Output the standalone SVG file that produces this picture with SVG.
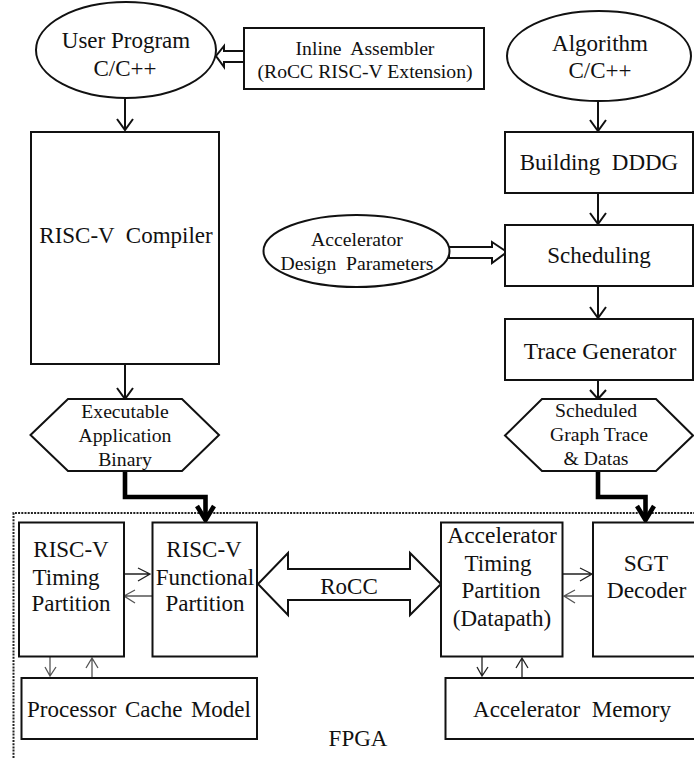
<svg xmlns="http://www.w3.org/2000/svg" width="694" height="758" viewBox="0 0 694 758">
<style>
text{font-family:"Liberation Serif","Times New Roman",serif;fill:#111;text-anchor:middle}
.s{fill:#fff;stroke:#111;stroke-width:2}
.f23{font-size:23px}.f24{font-size:23.5px}.f20{font-size:19.7px}
.c{fill:none;stroke:#111;stroke-width:2}
.t{fill:none;stroke:#555;stroke-width:1.3}
.d{fill:none;stroke:#222;stroke-width:1.3}
.b{fill:none;stroke:#000;stroke-width:4.6}
.o{fill:#fff;stroke:#111;stroke-width:2}
</style>
<rect width="694" height="758" fill="#fff"/>
<path d="M13.500 758V513H694" fill="none" stroke="#222" stroke-width="2" stroke-dasharray="2 1.200"/>
<g id="connectors">
<path class="c" d="M125 99V130M117 119L125 130L133 119"/>
<path class="c" d="M598 99V131M590 120L598 131L606 120"/>
<path class="c" d="M598 193V224M590 213L598 224L606 213"/>
<path class="c" d="M598 286V318M590 307L598 318L606 307"/>
<path class="c" d="M598 380V399M590 390L598 399L606 390"/>
<path class="c" d="M125 364V399M117 388L125 399L133 388"/>
<path class="b" d="M125 471V497H205.500V519"/>
<path class="b" d="M197 506L205.500 520L214 506"/>
<path class="b" d="M598 471V497H645.500V519"/>
<path class="b" d="M637 506L645.500 520L654 506"/>
<path class="o" d="M244 51H224V46L216 56L224 67V62H244Z"/>
<path class="o" d="M449 247H492V242L507 252L492 263V258H449Z"/>
<path class="o" d="M258 584L288 553V569H410V553L441 584L410 615V600H288V615Z"/>
<path class="d" d="M122 574H150M138 568L150 574L138 581"/>
<path class="t" d="M152 596H124M135 590L124 596L135 603"/>
<path class="t" d="M50 657V676M45 667L50 676L56 667"/>
<path class="t" d="M92 677V658M86 668L92 658L98 668"/>
<path class="d" d="M563 574H592M580 568L592 574L580 581"/>
<path class="t" d="M595 596H564M575 590L564 596L575 603"/>
<path class="d" d="M482 657V676M477 667L482 676L488 667"/>
<path class="d" d="M522 677V658M516 668L522 658L528 668"/>
</g>
<g id="user-program"><ellipse class="s" cx="126" cy="50" rx="90" ry="48"/><text class="f23" x="126" y="48">User Program</text><text class="f23" x="125" y="76">C/C++</text></g>
<g id="inline-assembler"><rect class="s" x="244" y="28" width="240" height="61"/><text class="f20" x="365" y="54.500" xml:space="preserve">Inline  Assembler</text><text class="f20" x="365" y="78">(RoCC RISC-V Extension)</text></g>
<g id="algorithm"><ellipse class="s" cx="599" cy="56" rx="92" ry="45"/><text class="f23" x="600" y="51">Algorithm</text><text class="f23" x="600" y="78">C/C++</text></g>
<g id="risc-v-compiler"><rect class="s" x="31" y="132" width="188" height="232"/><text class="f23" x="126" y="243" xml:space="preserve">RISC-V  Compiler</text></g>
<g id="building-dddg"><rect class="s" x="505" y="132" width="188" height="61"/><text class="f23" x="599" y="170" xml:space="preserve">Building  DDDG</text></g>
<g id="design-parameters"><ellipse class="s" cx="356.500" cy="251" rx="93" ry="36"/><text class="f20" x="357" y="246">Accelerator</text><text class="f20" x="357" y="270" xml:space="preserve">Design  Parameters</text></g>
<g id="scheduling"><rect class="s" x="505" y="225" width="188" height="61"/><text class="f23" x="599" y="263">Scheduling</text></g>
<g id="trace-generator"><rect class="s" x="505" y="319" width="188" height="61"/><text class="f24" x="600" y="359">Trace Generator</text></g>
<g id="executable-binary"><polygon class="s" points="30.500,435 68,399 182,399 219,435 182,471 68,471"/><text class="f20" x="125" y="418">Executable</text><text class="f20" x="125" y="442">Application</text><text class="f20" x="125" y="466">Binary</text></g>
<g id="scheduled-trace"><polygon class="s" points="505,435.500 542,399 656,399 693,435.500 656,471 542,471"/><text class="f20" x="596" y="417">Scheduled</text><text class="f20" x="599" y="441">Graph Trace</text><text class="f20" x="596" y="465">&amp; Datas</text></g>
<g id="riscv-timing"><rect class="s" x="19" y="522.500" width="105" height="134"/><text class="f23" x="71" y="557">RISC-V</text><text class="f23" x="66" y="585">Timing</text><text class="f23" x="71" y="611">Partition</text></g>
<g id="riscv-functional"><rect class="s" x="152.500" y="522.500" width="104.500" height="134"/><text class="f23" x="204" y="557">RISC-V</text><text class="f23" x="205" y="585">Functional</text><text class="f23" x="205" y="611">Partition</text></g>
<g id="rocc"><text class="f23" x="349" y="594">RoCC</text></g>
<g id="accelerator-timing"><rect class="s" x="441" y="522.500" width="121.500" height="134"/><text class="f24" x="502" y="543">Accelerator</text><text class="f23" x="498" y="571">Timing</text><text class="f23" x="501" y="598">Partition</text><text class="f23" x="502" y="626">(Datapath)</text></g>
<g id="sgt-decoder"><rect class="s" x="593" y="522.500" width="103" height="134"/><text class="f24" x="646" y="571">SGT</text><text class="f24" x="646.500" y="598">Decoder</text></g>
<g id="processor-cache"><rect class="s" x="21.500" y="678" width="235.500" height="61"/><text class="f23" x="139" y="717" xml:space="preserve" word-spacing="-1.500">Processor  Cache  Model</text></g>
<g id="accelerator-memory"><rect class="s" x="445.500" y="678" width="252" height="61"/><text class="f23" x="572" y="717" xml:space="preserve">Accelerator  Memory</text></g>
<g id="fpga"><text class="f23" x="358" y="746">FPGA</text></g>
</svg>
